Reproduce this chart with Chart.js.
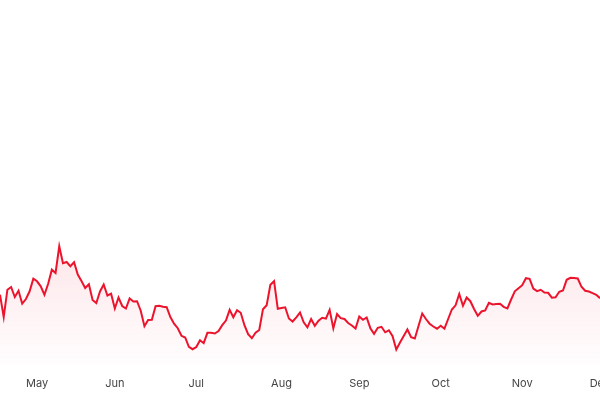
<!DOCTYPE html>
<html>
<head>
<meta charset="utf-8">
<script src="https://cdn.jsdelivr.net/npm/chart.js@4"></script>
<style>
  html, body { margin: 0; padding: 0; background: #ffffff; }
  #wrap { width: 600px; height: 400px; position: relative; }
</style>
</head>
<body>
<div id="wrap"><canvas id="c" width="600" height="400"></canvas></div>
<script>
// Daily series values
const values = [
  70.3, 48, 75.3, 78, 68, 74.3, 61.3, 66, 73.7, 86.3,
  83.7, 78.7, 70.3, 81.3, 95.3, 92, 118.7, 101.7, 103, 98.7,
  102.7, 90.5, 84, 77, 80.7, 65, 62, 73.5, 80.5, 69.5,
  71.3, 56.5, 67.5, 59, 56.5, 66.5, 63.5, 63.8, 54.3, 38.8,
  45, 45.3, 58.8, 59.3, 58.3, 57.8, 48, 41.3, 36.8, 29.2,
  27.5, 18.2, 15.8, 18, 24.8, 21.8, 32.2, 32.2, 31.5, 34,
  39.8, 44.5, 55.2, 47.8, 54.8, 52.2, 39.8, 30.8, 26.8, 32.2,
  35, 55.7, 59.7, 80.2, 83.8, 56.2, 57, 57.7, 46.5, 43.5,
  47.7, 52.5, 42.7, 37.7, 46, 39.2, 44.3, 47.2, 46.3, 55.2,
  36.8, 51, 46.8, 46, 42, 39.5, 36.5, 48.5, 45.2, 47.5,
  36.8, 31.2, 37.2, 38.2, 32.7, 34.7, 28.8, 15.5, 22.5, 29,
  35.5, 27.8, 26.5, 39, 51.5, 46, 41.3, 38.5, 36.3, 39.2,
  36.3, 46, 55.5, 59.7, 71, 59.3, 67.5, 63.8, 56, 49.2,
  53.5, 54.5, 62.2, 60.5, 61, 61.3, 58.2, 56.5, 65.5, 73.7,
  76.8, 79.8, 86.8, 86.2, 76.3, 73.8, 75.2, 72.5, 72.2, 67.3,
  67.7, 73.2, 74.5, 85.2, 87.2, 87, 86.5, 78.2, 74.2, 73.5,
  71.8, 70.2, 66.8
];

// Tick labels: month names and the index of the first point of each month
const monthNames = ['May', 'Jun', 'Jul', 'Aug', 'Sep', 'Oct', 'Nov', 'Dec'];
const monthStartIdx = [10, 31, 53, 76, 97, 119, 141, 162];

const labels = values.map((_, i) => {
  const k = monthStartIdx.indexOf(i);
  return k >= 0 ? monthNames[k] : '';
});

const LINE = 'rgb(236, 20, 45)';

new Chart(document.getElementById('c'), {
  type: 'line',
  data: {
    labels: labels,
    datasets: [{
      data: values,
      borderColor: LINE,
      borderWidth: 2,
      pointRadius: 0,
      pointHoverRadius: 0,
      tension: 0,
      fill: 'start',
      backgroundColor: (ctx) => {
        const chart = ctx.chart;
        const area = chart.chartArea;
        if (!area) return 'rgba(236,20,45,0.05)';
        const yS = chart.scales.y;
        const topPx = yS.getPixelForValue(Math.max(...values));
        const g = chart.ctx.createLinearGradient(0, topPx, 0, area.bottom);
        g.addColorStop(0, 'rgba(240, 30, 60, 0.11)');
        g.addColorStop(1, 'rgba(240, 30, 60, 0.008)');
        return g;
      }
    }]
  },
  options: {
    responsive: false,
    animation: false,
    devicePixelRatio: 1,
    layout: { padding: 0 },
    plugins: {
      legend: { display: false },
      tooltip: { enabled: false },
      title: { display: false }
    },
    scales: {
      x: {
        type: 'category',
        offset: false,
        grid: { display: false, drawTicks: false },
        border: { display: false },
        ticks: {
          autoSkip: false,
          maxRotation: 0,
          minRotation: 0,
          padding: 12,
          color: '#444',
          font: { family: 'Inter, "Liberation Sans", sans-serif', size: 11 }
        },
        afterFit: (scale) => {
          scale.paddingLeft = 0;
          scale.paddingRight = 0;
          scale.height = 35;
        }
      },
      y: {
        display: false,
        min: 0,
        max: 365
      }
    }
  }
});
</script>
</body>
</html>
